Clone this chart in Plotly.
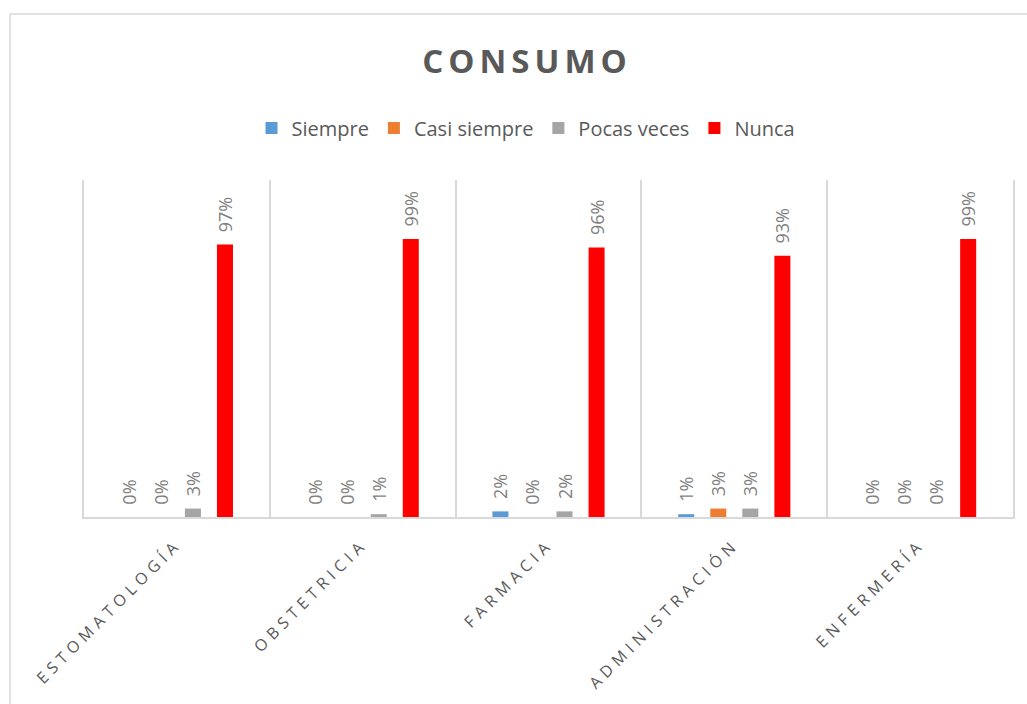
import plotly.graph_objects as go

categories = ["ESTOMATOLOGÍA", "OBSTETRICIA", "FARMACIA", "ADMINISTRACIÓN", "ENFERMERÍA"]
series_names = ["Siempre", "Casi siempre", "Pocas veces", "Nunca"]
siempre = [0, 0, 2, 1, 0]
casi_siempre = [0, 0, 0, 3, 0]
pocas_veces = [3, 1, 2, 3, 0]
nunca = [97, 99, 96, 93, 99]
colors = ["#5B9BD5", "#ED7D31", "#A5A5A5", "#FF0000"]

W, H = 1027, 704
L, R, T, B = 84, 14, 180, 187

fig = go.Figure()
for name, vals, col in zip(series_names, [siempre, casi_siempre, pocas_veces, nunca], colors):
    fig.add_trace(go.Bar(
        x=categories, y=vals, name=name, marker=dict(color=col, line=dict(width=0)),
        text=vals, texttemplate="\u00a0\u00a0%{y}%", textposition="outside", textangle=-90,
        constraintext="none",
        textfont=dict(family="Open Sans", size=18, color="#7F7F7F"),
        cliponaxis=False,
    ))

pw = W - L - R
ph = H - T - B
fig.add_shape(type="rect", xref="paper", yref="paper",
              x0=(10 - L) / pw, x1=(W + 20 - L) / pw,
              y0=-(H + 20 - T - ph) / ph, y1=(H - 14 - B) / ph,
              line=dict(color="#D9D9D9", width=1.5), fillcolor="rgba(0,0,0,0)", layer="below")

fig.update_layout(
    width=W, height=H,
    margin=dict(l=L, r=R, t=T, b=B, pad=0),
    paper_bgcolor="white", plot_bgcolor="white",
    barmode="group", bargap=0.31, bargroupgap=0.5,
    title=dict(text="<b>CONSUMO</b>", x=527 / W, xref="container", xanchor="center",
               y=1 - 61 / H, yref="container", yanchor="middle",
               font=dict(family="Open Sans", size=33, color="#595959")),
    legend=dict(orientation="h", x=526 / W, xref="container", xanchor="center",
                y=1 - 128 / H, yref="container", yanchor="middle",
                font=dict(family="Open Sans", size=20, color="#595959"),
                itemclick=False),
    xaxis=dict(tickson="boundaries", showgrid=True, gridcolor="#D9D9D9", gridwidth=1.5,
               showline=True, linecolor="#D9D9D9", linewidth=1.5, ticks="",
               tickangle=-45, ticklabelstandoff=10,
               tickfont=dict(family="Open Sans", size=16, color="#595959")),
    yaxis=dict(range=[0, 120], showgrid=False, showticklabels=False, zeroline=False,
               showline=True, mirror=True, linecolor="#D9D9D9", linewidth=1.5),
    font=dict(family="Open Sans"),
)

post = """
document.body.style.margin='0';
document.querySelectorAll('.xtick text').forEach(function(t){t.style.letterSpacing='5px';});
document.querySelectorAll('.gtitle').forEach(function(t){t.style.letterSpacing='5px';});
"""
fig.write_html("out.html", post_script=post, config={"displayModeBar": False})
